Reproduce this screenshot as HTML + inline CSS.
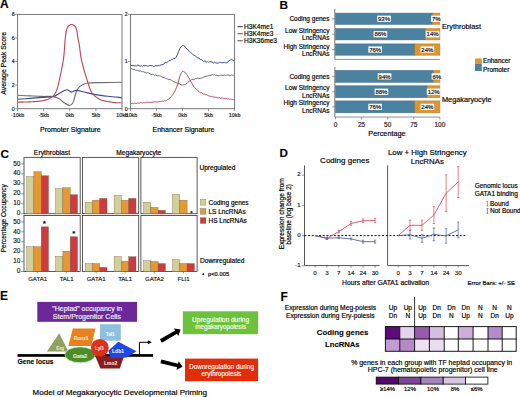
<!DOCTYPE html>
<html><head><meta charset="utf-8"><style>
html,body{margin:0;padding:0;background:#fff;overflow:hidden;width:520px;height:397px;}
svg{display:block;font-family:"Liberation Sans", sans-serif;}
</style></head><body>
<svg width="520" height="397" viewBox="0 0 520 397" font-family='"Liberation Sans", sans-serif'>
<rect width="520" height="397" fill="#fff"/>
<text x="0.00" y="8.40" font-size="12" text-anchor="start" font-weight="bold" fill="#000" stroke="#000" stroke-width="0.108">A</text>
<rect x="17.60" y="14.40" width="104.40" height="94.30" fill="none" stroke="#6a6a6a" stroke-width="0.9"/>
<line x1="15.10" y1="14.40" x2="17.60" y2="14.40" stroke="#6a6a6a" stroke-width="0.7"/>
<text x="14.60" y="16.27" font-size="5.2" text-anchor="end" fill="#222" stroke="#222" stroke-width="0.18">8</text>
<line x1="15.10" y1="37.98" x2="17.60" y2="37.98" stroke="#6a6a6a" stroke-width="0.7"/>
<text x="14.60" y="39.85" font-size="5.2" text-anchor="end" fill="#222" stroke="#222" stroke-width="0.18">6</text>
<line x1="15.10" y1="61.55" x2="17.60" y2="61.55" stroke="#6a6a6a" stroke-width="0.7"/>
<text x="14.60" y="63.42" font-size="5.2" text-anchor="end" fill="#222" stroke="#222" stroke-width="0.18">4</text>
<line x1="15.10" y1="85.12" x2="17.60" y2="85.12" stroke="#6a6a6a" stroke-width="0.7"/>
<text x="14.60" y="87.00" font-size="5.2" text-anchor="end" fill="#222" stroke="#222" stroke-width="0.18">2</text>
<line x1="15.10" y1="108.70" x2="17.60" y2="108.70" stroke="#6a6a6a" stroke-width="0.7"/>
<text x="14.60" y="110.57" font-size="5.2" text-anchor="end" fill="#222" stroke="#222" stroke-width="0.18">0</text>
<line x1="17.60" y1="108.70" x2="17.60" y2="111.20" stroke="#6a6a6a" stroke-width="0.7"/>
<text x="17.60" y="116.71" font-size="5.3" text-anchor="middle" fill="#222" stroke="#222" stroke-width="0.18">-10kb</text>
<line x1="43.70" y1="108.70" x2="43.70" y2="111.20" stroke="#6a6a6a" stroke-width="0.7"/>
<text x="43.70" y="116.71" font-size="5.3" text-anchor="middle" fill="#222" stroke="#222" stroke-width="0.18">-5kb</text>
<line x1="69.80" y1="108.70" x2="69.80" y2="111.20" stroke="#6a6a6a" stroke-width="0.7"/>
<text x="69.80" y="116.71" font-size="5.3" text-anchor="middle" fill="#222" stroke="#222" stroke-width="0.18">0kb</text>
<line x1="95.90" y1="108.70" x2="95.90" y2="111.20" stroke="#6a6a6a" stroke-width="0.7"/>
<text x="95.90" y="116.71" font-size="5.3" text-anchor="middle" fill="#222" stroke="#222" stroke-width="0.18">5kb</text>
<line x1="122.00" y1="108.70" x2="122.00" y2="111.20" stroke="#6a6a6a" stroke-width="0.7"/>
<text x="122.00" y="116.71" font-size="5.3" text-anchor="middle" fill="#222" stroke="#222" stroke-width="0.18">10kb</text>
<text x="70.40" y="131.92" font-size="7" text-anchor="middle" fill="#000" stroke="#000" stroke-width="0.18">Promoter Signature</text>
<text x="6.48" y="63.30" font-size="6.88" text-anchor="middle" fill="#000" stroke="#000" stroke-width="0.18" transform="rotate(-90 6.4768 63.3)">Average Peak Score</text>
<rect x="130.60" y="14.40" width="104.00" height="94.30" fill="none" stroke="#6a6a6a" stroke-width="0.9"/>
<line x1="128.10" y1="14.40" x2="130.60" y2="14.40" stroke="#6a6a6a" stroke-width="0.7"/>
<text x="127.60" y="16.27" font-size="5.2" text-anchor="end" fill="#222" stroke="#222" stroke-width="0.18">2</text>
<line x1="128.10" y1="61.55" x2="130.60" y2="61.55" stroke="#6a6a6a" stroke-width="0.7"/>
<text x="127.60" y="63.42" font-size="5.2" text-anchor="end" fill="#222" stroke="#222" stroke-width="0.18">1</text>
<line x1="128.10" y1="108.70" x2="130.60" y2="108.70" stroke="#6a6a6a" stroke-width="0.7"/>
<text x="127.60" y="110.57" font-size="5.2" text-anchor="end" fill="#222" stroke="#222" stroke-width="0.18">0</text>
<line x1="130.60" y1="108.70" x2="130.60" y2="111.20" stroke="#6a6a6a" stroke-width="0.7"/>
<text x="130.60" y="116.71" font-size="5.3" text-anchor="middle" fill="#222" stroke="#222" stroke-width="0.18">-10kb</text>
<line x1="156.60" y1="108.70" x2="156.60" y2="111.20" stroke="#6a6a6a" stroke-width="0.7"/>
<text x="156.60" y="116.71" font-size="5.3" text-anchor="middle" fill="#222" stroke="#222" stroke-width="0.18">-5kb</text>
<line x1="182.60" y1="108.70" x2="182.60" y2="111.20" stroke="#6a6a6a" stroke-width="0.7"/>
<text x="182.60" y="116.71" font-size="5.3" text-anchor="middle" fill="#222" stroke="#222" stroke-width="0.18">0kb</text>
<line x1="208.60" y1="108.70" x2="208.60" y2="111.20" stroke="#6a6a6a" stroke-width="0.7"/>
<text x="208.60" y="116.71" font-size="5.3" text-anchor="middle" fill="#222" stroke="#222" stroke-width="0.18">5kb</text>
<line x1="234.60" y1="108.70" x2="234.60" y2="111.20" stroke="#6a6a6a" stroke-width="0.7"/>
<text x="234.60" y="116.71" font-size="5.3" text-anchor="middle" fill="#222" stroke="#222" stroke-width="0.18">10kb</text>
<text x="183.50" y="131.92" font-size="7" text-anchor="middle" fill="#000" stroke="#000" stroke-width="0.18">Enhancer Signature</text>
<path d="M17.60,95.30 C19.67,95.40 25.93,95.72 30.00,95.90 C34.07,96.08 38.08,96.28 42.00,96.40 C45.92,96.52 50.63,96.20 53.50,96.60 C56.37,97.00 57.45,97.78 59.20,98.80 C60.95,99.82 62.32,101.60 64.00,102.70 C65.68,103.80 67.88,105.27 69.30,105.40 C70.72,105.53 71.63,104.73 72.50,103.50 C73.37,102.27 73.83,99.98 74.50,98.00 C75.17,96.02 75.68,93.47 76.50,91.60 C77.32,89.73 78.27,88.00 79.40,86.80 C80.53,85.60 81.87,85.03 83.30,84.40 C84.73,83.77 85.22,83.30 88.00,83.00 C90.78,82.70 94.33,82.72 100.00,82.60 C105.67,82.48 118.33,82.35 122.00,82.30" stroke="#6e6e6e" stroke-width="1.1" fill="none"/>
<path d="M17.60,99.30 C19.67,99.15 25.93,98.72 30.00,98.40 C34.07,98.08 38.08,97.73 42.00,97.40 C45.92,97.07 50.50,97.13 53.50,96.40 C56.50,95.67 57.77,94.12 60.00,93.00 C62.23,91.88 65.02,89.85 66.90,89.70 C68.78,89.55 69.70,91.98 71.30,92.10 C72.90,92.22 74.38,90.42 76.50,90.40 C78.62,90.38 80.88,91.30 84.00,92.00 C87.12,92.70 91.20,93.88 95.20,94.60 C99.20,95.32 103.53,95.80 108.00,96.30 C112.47,96.80 119.67,97.38 122.00,97.60" stroke="#3a4c8e" stroke-width="1.1" fill="none"/>
<path d="M17.60,102.19 L18.10,102.19 L18.60,102.18 L19.10,102.17 L19.60,102.16 L20.10,102.15 L20.60,102.14 L21.10,102.13 L21.60,102.12 L22.10,102.11 L22.60,102.10 L23.10,102.08 L23.60,102.07 L24.10,102.05 L24.60,102.04 L25.10,102.02 L25.60,102.01 L26.10,101.99 L26.60,101.98 L27.10,101.96 L27.60,101.94 L28.10,101.93 L28.60,101.91 L29.10,101.89 L29.60,101.87 L30.10,101.85 L30.60,101.83 L31.10,101.81 L31.60,101.79 L32.10,101.76 L32.60,101.73 L33.10,101.70 L33.60,101.67 L34.10,101.63 L34.60,101.59 L35.10,101.55 L35.60,101.51 L36.10,101.47 L36.60,101.42 L37.10,101.38 L37.60,101.33 L38.10,101.28 L38.60,101.23 L39.10,101.17 L39.60,101.11 L40.10,101.05 L40.60,100.99 L41.10,100.92 L41.60,100.84 L42.10,100.76 L42.60,100.68 L43.10,100.58 L43.60,100.49 L44.10,100.38 L44.60,100.27 L45.10,100.15 L45.60,100.02 L46.10,99.89 L46.60,99.75 L47.10,99.60 L47.60,99.44 L48.10,99.27 L48.60,99.07 L49.10,98.81 L49.60,98.51 L50.10,98.17 L50.60,97.80 L51.10,97.42 L51.60,97.04 L52.10,96.66 L52.60,96.28 L53.10,95.87 L53.60,95.41 L54.10,94.88 L54.60,94.25 L55.10,93.47 L55.60,92.53 L56.10,91.45 L56.60,90.25 L57.10,88.93 L57.60,87.33 L58.10,85.45 L58.60,83.37 L59.10,81.18 L59.60,78.97 L60.10,76.71 L60.60,74.32 L61.10,71.82 L61.60,69.23 L62.10,66.59 L62.60,64.09 L63.10,61.40 L63.60,58.12 L64.10,53.35 L64.60,46.45 L65.10,40.21 L65.60,35.47 L66.10,31.84 L66.60,29.59 L67.10,28.10 L67.60,27.06 L68.10,26.39 L68.60,25.89 L69.10,25.50 L69.60,25.20 L70.10,24.93 L70.60,24.70 L71.10,24.52 L71.60,24.42 L72.10,24.52 L72.60,24.70 L73.10,24.93 L73.60,25.20 L74.10,25.50 L74.60,25.89 L75.10,26.39 L75.60,27.06 L76.10,28.10 L76.60,29.59 L77.10,32.05 L77.60,35.93 L78.10,39.02 L78.60,41.37 L79.10,43.77 L79.60,46.96 L80.10,51.15 L80.60,55.17 L81.10,58.07 L81.60,60.51 L82.10,62.68 L82.60,64.66 L83.10,66.56 L83.60,68.44 L84.10,70.24 L84.60,71.96 L85.10,73.62 L85.60,75.23 L86.10,76.82 L86.60,78.39 L87.10,79.99 L87.60,81.62 L88.10,83.25 L88.60,84.85 L89.10,86.38 L89.60,87.79 L90.10,89.06 L90.60,90.19 L91.10,91.27 L91.60,92.26 L92.10,93.14 L92.60,93.86 L93.10,94.44 L93.60,94.97 L94.10,95.46 L94.60,95.90 L95.10,96.31 L95.60,96.69 L96.10,97.05 L96.60,97.39 L97.10,97.71 L97.60,98.03 L98.10,98.34 L98.60,98.65 L99.10,98.94 L99.60,99.23 L100.10,99.49 L100.60,99.74 L101.10,99.97 L101.60,100.17 L102.10,100.34 L102.60,100.48 L103.10,100.62 L103.60,100.75 L104.10,100.87 L104.60,100.99 L105.10,101.10 L105.60,101.20 L106.10,101.29 L106.60,101.38 L107.10,101.46 L107.60,101.54 L108.10,101.62 L108.60,101.70 L109.10,101.78 L109.60,101.85 L110.10,101.93 L110.60,102.01 L111.10,102.09 L111.60,102.17 L112.10,102.24 L112.60,102.31 L113.10,102.38 L113.60,102.45 L114.10,102.51 L114.60,102.57 L115.10,102.62 L115.60,102.67 L116.10,102.71 L116.60,102.74 L117.10,102.77 L117.60,102.79 L118.10,102.80 L118.60,102.81 L119.10,102.81 L119.60,102.81 L120.10,102.81 L120.60,102.81 L121.10,102.81 L121.60,102.81" stroke="#b8464f" stroke-width="1.1" fill="none" stroke-linejoin="round"/>
<path d="M130.60,65.34 L131.80,65.52 L133.00,65.63 L134.20,65.84 L135.40,65.67 L136.60,65.92 L137.80,64.99 L139.00,65.52 L140.20,66.10 L141.40,65.83 L142.60,66.17 L143.80,65.36 L145.00,65.82 L146.20,65.63 L147.40,66.00 L148.60,66.07 L149.80,65.46 L151.00,65.68 L152.20,65.74 L153.40,66.41 L154.60,66.20 L155.80,65.48 L157.00,66.11 L158.20,65.31 L159.40,65.74 L160.60,65.09 L161.80,64.60 L163.00,64.85 L164.20,63.27 L165.40,62.46 L166.60,62.64 L167.80,61.88 L169.00,60.61 L170.20,60.72 L171.40,59.65 L172.60,59.30 L173.80,58.26 L175.00,58.39 L176.20,57.06 L177.40,54.77 L178.60,51.58 L179.80,48.59 L181.00,46.85 L182.20,45.41 L183.40,45.40 L184.60,46.10 L185.80,47.74 L187.00,49.32 L188.20,49.82 L189.40,51.66 L190.60,52.33 L191.80,53.27 L193.00,54.78 L194.20,55.31 L195.40,55.98 L196.60,56.95 L197.80,57.93 L199.00,57.95 L200.20,59.70 L201.40,59.35 L202.60,60.77 L203.80,61.40 L205.00,60.86 L206.20,61.94 L207.40,61.68 L208.60,62.10 L209.80,61.64 L211.00,61.83 L212.20,62.09 L213.40,63.03 L214.60,62.25 L215.80,62.88 L217.00,63.07 L218.20,63.09 L219.40,62.43 L220.60,62.44 L221.80,62.63 L223.00,62.90 L224.20,62.17 L225.40,62.87 L226.60,62.79 L227.80,62.21 L229.00,60.49 L230.20,60.40 L231.40,59.13 L232.60,60.11 L233.80,60.94" stroke="#3a4c8e" stroke-width="1.0" fill="none" stroke-linejoin="round"/>
<path d="M130.60,68.54 L131.80,68.74 L133.00,69.53 L134.20,69.35 L135.40,70.10 L136.60,70.28 L137.80,70.33 L139.00,71.05 L140.20,70.94 L141.40,71.59 L142.60,71.55 L143.80,71.85 L145.00,72.43 L146.20,73.07 L147.40,72.72 L148.60,73.10 L149.80,73.76 L151.00,74.36 L152.20,74.34 L153.40,74.49 L154.60,75.33 L155.80,74.82 L157.00,75.88 L158.20,75.70 L159.40,75.91 L160.60,76.24 L161.80,76.78 L163.00,77.62 L164.20,77.44 L165.40,78.22 L166.60,78.73 L167.80,78.97 L169.00,79.63 L170.20,79.69 L171.40,80.20 L172.60,80.85 L173.80,81.81 L175.00,82.11 L176.20,82.53 L177.40,83.30 L178.60,83.72 L179.80,84.06 L181.00,84.88 L182.20,85.10 L183.40,84.74 L184.60,84.71 L185.80,84.12 L187.00,83.57 L188.20,82.26 L189.40,80.88 L190.60,80.62 L191.80,79.35 L193.00,79.30 L194.20,79.36 L195.40,78.60 L196.60,78.68 L197.80,78.09 L199.00,78.48 L200.20,78.38 L201.40,77.97 L202.60,77.89 L203.80,76.94 L205.00,76.82 L206.20,76.32 L207.40,75.90 L208.60,75.36 L209.80,75.35 L211.00,75.23 L212.20,74.78 L213.40,75.00 L214.60,74.53 L215.80,75.20 L217.00,75.26 L218.20,75.67 L219.40,75.61 L220.60,75.18 L221.80,75.30 L223.00,75.55 L224.20,74.97 L225.40,75.37 L226.60,75.10 L227.80,75.06 L229.00,75.00 L230.20,75.64 L231.40,75.07 L232.60,75.17 L233.80,75.30" stroke="#6e6e6e" stroke-width="1.0" fill="none" stroke-linejoin="round"/>
<path d="M130.60,103.68 L131.60,103.55 L132.60,103.34 L133.60,103.70 L134.60,103.11 L135.60,103.33 L136.60,103.49 L137.60,102.93 L138.60,103.14 L139.60,103.10 L140.60,102.68 L141.60,102.80 L142.60,102.92 L143.60,102.69 L144.60,102.77 L145.60,102.35 L146.60,102.32 L147.60,102.17 L148.60,102.33 L149.60,102.51 L150.60,102.24 L151.60,102.29 L152.60,102.01 L153.60,102.18 L154.60,101.75 L155.60,101.81 L156.60,101.99 L157.60,101.97 L158.60,101.72 L159.60,101.44 L160.60,101.46 L161.60,101.30 L162.60,101.17 L163.60,101.26 L164.60,100.62 L165.60,100.71 L166.60,100.33 L167.60,99.42 L168.60,99.08 L169.60,98.35 L170.60,97.07 L171.60,96.14 L172.60,95.15 L173.60,93.24 L174.60,91.77 L175.60,89.41 L176.60,87.35 L177.60,84.74 L178.60,80.63 L179.60,76.94 L180.60,74.28 L181.60,72.41 L182.60,71.47 L183.60,71.36 L184.60,72.05 L185.60,73.14 L186.60,74.26 L187.60,75.83 L188.60,77.69 L189.60,79.17 L190.60,81.24 L191.60,82.66 L192.60,84.60 L193.60,86.44 L194.60,87.32 L195.60,88.73 L196.60,89.70 L197.60,90.27 L198.60,91.09 L199.60,92.19 L200.60,92.78 L201.60,92.77 L202.60,93.59 L203.60,94.18 L204.60,94.17 L205.60,94.78 L206.60,94.80 L207.60,95.33 L208.60,95.82 L209.60,96.06 L210.60,96.43 L211.60,96.25 L212.60,96.63 L213.60,97.14 L214.60,97.16 L215.60,97.26 L216.60,97.39 L217.60,97.90 L218.60,97.80 L219.60,97.61 L220.60,98.22 L221.60,98.07 L222.60,98.27 L223.60,98.26 L224.60,98.53 L225.60,98.58 L226.60,98.56 L227.60,99.00 L228.60,98.80 L229.60,99.31 L230.60,98.96 L231.60,99.51 L232.60,99.62 L233.60,99.52 L234.60,99.73" stroke="#b8464f" stroke-width="1.0" fill="none" stroke-linejoin="round"/>
<line x1="237.50" y1="26.60" x2="242.70" y2="26.60" stroke="#3a4c8e" stroke-width="1.2"/>
<text x="244.00" y="28.98" font-size="6.6" text-anchor="start" fill="#000" stroke="#000" stroke-width="0.18">H3K4me1</text>
<line x1="237.50" y1="33.65" x2="242.70" y2="33.65" stroke="#b8464f" stroke-width="1.2"/>
<text x="244.00" y="36.03" font-size="6.6" text-anchor="start" fill="#000" stroke="#000" stroke-width="0.18">H3K4me3</text>
<line x1="237.50" y1="40.70" x2="242.70" y2="40.70" stroke="#6e6e6e" stroke-width="1.2"/>
<text x="244.00" y="43.08" font-size="6.6" text-anchor="start" fill="#000" stroke="#000" stroke-width="0.18">H3K36me3</text>
<text x="279.40" y="8.60" font-size="11.8" text-anchor="start" font-weight="bold" fill="#000" stroke="#000" stroke-width="0.108">B</text>
<line x1="334.80" y1="8.70" x2="334.80" y2="59.40" stroke="#555" stroke-width="0.8"/>
<line x1="334.80" y1="59.40" x2="439.90" y2="59.40" stroke="#6a7a88" stroke-width="0.8"/>
<rect x="335.50" y="13.10" width="97.09" height="11.30" fill="#4b82a0" stroke="#3f6b86" stroke-width="0.5"/>
<rect x="432.59" y="13.10" width="7.31" height="11.30" fill="#df952f" stroke="#b07a2a" stroke-width="0.5"/>
<rect x="377.24" y="15.65" width="13.61" height="6.20" fill="#fff" stroke="none" stroke-width="0"/>
<text x="384.05" y="20.91" font-size="6.0" text-anchor="middle" fill="#111" stroke="#111" stroke-width="0.18">93%</text>
<rect x="431.11" y="15.65" width="10.27" height="6.20" fill="#fff" stroke="none" stroke-width="0"/>
<text x="436.25" y="20.91" font-size="6.0" text-anchor="middle" fill="#111" stroke="#111" stroke-width="0.18">7%</text>
<line x1="332.00" y1="18.75" x2="334.80" y2="18.75" stroke="#555" stroke-width="0.6"/>
<rect x="335.50" y="28.60" width="89.78" height="11.30" fill="#4b82a0" stroke="#3f6b86" stroke-width="0.5"/>
<rect x="425.28" y="28.60" width="14.62" height="11.30" fill="#df952f" stroke="#b07a2a" stroke-width="0.5"/>
<rect x="373.59" y="31.15" width="13.61" height="6.20" fill="#fff" stroke="none" stroke-width="0"/>
<text x="380.39" y="36.41" font-size="6.0" text-anchor="middle" fill="#111" stroke="#111" stroke-width="0.18">86%</text>
<rect x="425.79" y="31.15" width="13.61" height="6.20" fill="#fff" stroke="none" stroke-width="0"/>
<text x="432.59" y="36.41" font-size="6.0" text-anchor="middle" fill="#111" stroke="#111" stroke-width="0.18">14%</text>
<line x1="332.00" y1="34.25" x2="334.80" y2="34.25" stroke="#555" stroke-width="0.6"/>
<rect x="335.50" y="43.90" width="79.34" height="11.30" fill="#4b82a0" stroke="#3f6b86" stroke-width="0.5"/>
<rect x="414.84" y="43.90" width="25.06" height="11.30" fill="#df952f" stroke="#b07a2a" stroke-width="0.5"/>
<rect x="368.37" y="46.45" width="13.61" height="6.20" fill="#fff" stroke="none" stroke-width="0"/>
<text x="375.17" y="51.71" font-size="6.0" text-anchor="middle" fill="#111" stroke="#111" stroke-width="0.18">76%</text>
<rect x="420.57" y="46.45" width="13.61" height="6.20" fill="#fff" stroke="none" stroke-width="0"/>
<text x="427.37" y="51.71" font-size="6.0" text-anchor="middle" fill="#111" stroke="#111" stroke-width="0.18">24%</text>
<line x1="332.00" y1="49.55" x2="334.80" y2="49.55" stroke="#555" stroke-width="0.6"/>
<text x="442.00" y="29.03" font-size="7.3" text-anchor="start" fill="#000" stroke="#000" stroke-width="0.18">Erythroblast</text>
<line x1="334.80" y1="67.00" x2="334.80" y2="117.10" stroke="#555" stroke-width="0.8"/>
<line x1="334.80" y1="117.10" x2="439.90" y2="117.10" stroke="#6a7a88" stroke-width="0.8"/>
<rect x="335.50" y="70.40" width="98.14" height="11.90" fill="#4b82a0" stroke="#3f6b86" stroke-width="0.5"/>
<rect x="433.64" y="70.40" width="6.26" height="11.90" fill="#df952f" stroke="#b07a2a" stroke-width="0.5"/>
<rect x="377.76" y="73.25" width="13.61" height="6.20" fill="#fff" stroke="none" stroke-width="0"/>
<text x="384.57" y="78.51" font-size="6.0" text-anchor="middle" fill="#111" stroke="#111" stroke-width="0.18">94%</text>
<rect x="431.63" y="73.25" width="10.27" height="6.20" fill="#fff" stroke="none" stroke-width="0"/>
<text x="436.77" y="78.51" font-size="6.0" text-anchor="middle" fill="#111" stroke="#111" stroke-width="0.18">6%</text>
<line x1="332.00" y1="76.35" x2="334.80" y2="76.35" stroke="#555" stroke-width="0.6"/>
<rect x="335.50" y="85.80" width="91.87" height="11.90" fill="#4b82a0" stroke="#3f6b86" stroke-width="0.5"/>
<rect x="427.37" y="85.80" width="12.53" height="11.90" fill="#df952f" stroke="#b07a2a" stroke-width="0.5"/>
<rect x="374.63" y="88.65" width="13.61" height="6.20" fill="#fff" stroke="none" stroke-width="0"/>
<text x="381.44" y="93.91" font-size="6.0" text-anchor="middle" fill="#111" stroke="#111" stroke-width="0.18">88%</text>
<rect x="426.83" y="88.65" width="13.61" height="6.20" fill="#fff" stroke="none" stroke-width="0"/>
<text x="433.64" y="93.91" font-size="6.0" text-anchor="middle" fill="#111" stroke="#111" stroke-width="0.18">12%</text>
<line x1="332.00" y1="91.75" x2="334.80" y2="91.75" stroke="#555" stroke-width="0.6"/>
<rect x="335.50" y="100.90" width="79.34" height="11.90" fill="#4b82a0" stroke="#3f6b86" stroke-width="0.5"/>
<rect x="414.84" y="100.90" width="25.06" height="11.90" fill="#df952f" stroke="#b07a2a" stroke-width="0.5"/>
<rect x="368.37" y="103.75" width="13.61" height="6.20" fill="#fff" stroke="none" stroke-width="0"/>
<text x="375.17" y="109.01" font-size="6.0" text-anchor="middle" fill="#111" stroke="#111" stroke-width="0.18">76%</text>
<rect x="420.57" y="103.75" width="13.61" height="6.20" fill="#fff" stroke="none" stroke-width="0"/>
<text x="427.37" y="109.01" font-size="6.0" text-anchor="middle" fill="#111" stroke="#111" stroke-width="0.18">24%</text>
<line x1="332.00" y1="106.85" x2="334.80" y2="106.85" stroke="#555" stroke-width="0.6"/>
<text x="442.00" y="101.83" font-size="7.3" text-anchor="start" fill="#000" stroke="#000" stroke-width="0.18">Megakaryocyte</text>
<text x="329.50" y="21.24" font-size="6.5" text-anchor="end" fill="#000" stroke="#000" stroke-width="0.18">Coding genes</text>
<text x="329.50" y="32.64" font-size="6.5" text-anchor="end" fill="#000" stroke="#000" stroke-width="0.18">Low Stringency</text>
<text x="329.50" y="40.14" font-size="6.5" text-anchor="end" fill="#000" stroke="#000" stroke-width="0.18">LncRNAs</text>
<text x="329.50" y="48.54" font-size="6.5" text-anchor="end" fill="#000" stroke="#000" stroke-width="0.18">High Stringency</text>
<text x="329.50" y="56.04" font-size="6.5" text-anchor="end" fill="#000" stroke="#000" stroke-width="0.18">LncRNAs</text>
<text x="329.50" y="78.64" font-size="6.5" text-anchor="end" fill="#000" stroke="#000" stroke-width="0.18">Coding genes</text>
<text x="329.50" y="90.14" font-size="6.5" text-anchor="end" fill="#000" stroke="#000" stroke-width="0.18">Low Stringency</text>
<text x="329.50" y="97.64" font-size="6.5" text-anchor="end" fill="#000" stroke="#000" stroke-width="0.18">LncRNAs</text>
<text x="329.50" y="105.34" font-size="6.5" text-anchor="end" fill="#000" stroke="#000" stroke-width="0.18">High Stringency</text>
<text x="329.50" y="112.84" font-size="6.5" text-anchor="end" fill="#000" stroke="#000" stroke-width="0.18">LncRNAs</text>
<line x1="335.50" y1="117.10" x2="335.50" y2="119.40" stroke="#555" stroke-width="0.6"/>
<text x="335.50" y="127.04" font-size="6.5" text-anchor="middle" fill="#222" stroke="#222" stroke-width="0.18">0</text>
<line x1="361.60" y1="117.10" x2="361.60" y2="119.40" stroke="#555" stroke-width="0.6"/>
<text x="361.60" y="127.04" font-size="6.5" text-anchor="middle" fill="#222" stroke="#222" stroke-width="0.18">25</text>
<line x1="387.70" y1="117.10" x2="387.70" y2="119.40" stroke="#555" stroke-width="0.6"/>
<text x="387.70" y="127.04" font-size="6.5" text-anchor="middle" fill="#222" stroke="#222" stroke-width="0.18">50</text>
<line x1="413.80" y1="117.10" x2="413.80" y2="119.40" stroke="#555" stroke-width="0.6"/>
<text x="413.80" y="127.04" font-size="6.5" text-anchor="middle" fill="#222" stroke="#222" stroke-width="0.18">75</text>
<line x1="439.90" y1="117.10" x2="439.90" y2="119.40" stroke="#555" stroke-width="0.6"/>
<text x="439.90" y="127.04" font-size="6.5" text-anchor="middle" fill="#222" stroke="#222" stroke-width="0.18">100</text>
<text x="387.00" y="135.63" font-size="7.3" text-anchor="middle" fill="#000" stroke="#000" stroke-width="0.18">Percentage</text>
<rect x="475.00" y="58.50" width="6.80" height="5.30" fill="#df952f" stroke="none" stroke-width="0"/>
<rect x="475.00" y="63.80" width="6.80" height="7.20" fill="#4b82a0" stroke="none" stroke-width="0"/>
<text x="483.00" y="63.30" font-size="6.4" text-anchor="start" fill="#000" stroke="#000" stroke-width="0.18">Enhancer</text>
<text x="483.00" y="71.50" font-size="6.4" text-anchor="start" fill="#000" stroke="#000" stroke-width="0.18">Promoter</text>
<text x="0.50" y="158.00" font-size="11.8" text-anchor="start" font-weight="bold" fill="#000" stroke="#000" stroke-width="0.108">C</text>
<rect x="24.00" y="157.40" width="56.20" height="56.30" fill="none" stroke="#484848" stroke-width="0.9"/>
<rect x="26.60" y="176.77" width="7.30" height="36.93" fill="#d3cf9b" stroke="#6b5a3a" stroke-width="0.35"/>
<rect x="33.90" y="171.78" width="7.30" height="41.92" fill="#e39a36" stroke="#6b5a3a" stroke-width="0.35"/>
<rect x="41.20" y="175.78" width="7.30" height="37.92" fill="#cc3b40" stroke="#6b5a3a" stroke-width="0.35"/>
<rect x="55.60" y="188.75" width="7.30" height="24.95" fill="#d3cf9b" stroke="#6b5a3a" stroke-width="0.35"/>
<rect x="62.90" y="187.75" width="7.30" height="25.95" fill="#e39a36" stroke="#6b5a3a" stroke-width="0.35"/>
<rect x="70.20" y="194.74" width="7.30" height="18.96" fill="#cc3b40" stroke="#6b5a3a" stroke-width="0.35"/>
<rect x="82.50" y="157.40" width="56.20" height="56.30" fill="none" stroke="#484848" stroke-width="0.9"/>
<rect x="85.10" y="202.22" width="7.30" height="11.48" fill="#d3cf9b" stroke="#6b5a3a" stroke-width="0.35"/>
<rect x="92.40" y="200.33" width="7.30" height="13.37" fill="#e39a36" stroke="#6b5a3a" stroke-width="0.35"/>
<rect x="99.70" y="198.43" width="7.30" height="15.27" fill="#cc3b40" stroke="#6b5a3a" stroke-width="0.35"/>
<rect x="114.10" y="195.54" width="7.30" height="18.16" fill="#d3cf9b" stroke="#6b5a3a" stroke-width="0.35"/>
<rect x="121.40" y="200.33" width="7.30" height="13.37" fill="#e39a36" stroke="#6b5a3a" stroke-width="0.35"/>
<rect x="128.70" y="198.43" width="7.30" height="15.27" fill="#cc3b40" stroke="#6b5a3a" stroke-width="0.35"/>
<rect x="140.90" y="157.40" width="56.20" height="56.30" fill="none" stroke="#484848" stroke-width="0.9"/>
<rect x="143.50" y="202.22" width="7.30" height="11.48" fill="#d3cf9b" stroke="#6b5a3a" stroke-width="0.35"/>
<rect x="150.80" y="207.41" width="7.30" height="6.29" fill="#e39a36" stroke="#6b5a3a" stroke-width="0.35"/>
<rect x="158.10" y="210.31" width="7.30" height="3.39" fill="#cc3b40" stroke="#6b5a3a" stroke-width="0.35"/>
<rect x="172.50" y="194.44" width="7.30" height="19.26" fill="#d3cf9b" stroke="#6b5a3a" stroke-width="0.35"/>
<rect x="179.80" y="200.33" width="7.30" height="13.37" fill="#e39a36" stroke="#6b5a3a" stroke-width="0.35"/>
<line x1="20.80" y1="213.70" x2="24.00" y2="213.70" stroke="#555" stroke-width="0.6"/>
<text x="20.30" y="215.40" font-size="6.4" text-anchor="end" fill="#222" stroke="#222" stroke-width="0.18">0</text>
<line x1="20.80" y1="203.72" x2="24.00" y2="203.72" stroke="#555" stroke-width="0.6"/>
<text x="20.30" y="205.42" font-size="6.4" text-anchor="end" fill="#222" stroke="#222" stroke-width="0.18">10</text>
<line x1="20.80" y1="193.74" x2="24.00" y2="193.74" stroke="#555" stroke-width="0.6"/>
<text x="20.30" y="195.44" font-size="6.4" text-anchor="end" fill="#222" stroke="#222" stroke-width="0.18">20</text>
<line x1="20.80" y1="183.76" x2="24.00" y2="183.76" stroke="#555" stroke-width="0.6"/>
<text x="20.30" y="185.46" font-size="6.4" text-anchor="end" fill="#222" stroke="#222" stroke-width="0.18">30</text>
<line x1="20.80" y1="173.78" x2="24.00" y2="173.78" stroke="#555" stroke-width="0.6"/>
<text x="20.30" y="175.48" font-size="6.4" text-anchor="end" fill="#222" stroke="#222" stroke-width="0.18">40</text>
<line x1="20.80" y1="163.80" x2="24.00" y2="163.80" stroke="#555" stroke-width="0.6"/>
<text x="20.30" y="165.50" font-size="6.4" text-anchor="end" fill="#222" stroke="#222" stroke-width="0.18">50</text>
<rect x="24.00" y="215.50" width="56.20" height="56.00" fill="none" stroke="#484848" stroke-width="0.9"/>
<rect x="26.60" y="246.70" width="7.30" height="24.80" fill="#d3cf9b" stroke="#6b5a3a" stroke-width="0.35"/>
<rect x="33.90" y="246.70" width="7.30" height="24.80" fill="#e39a36" stroke="#6b5a3a" stroke-width="0.35"/>
<rect x="41.20" y="226.86" width="7.30" height="44.64" fill="#cc3b40" stroke="#6b5a3a" stroke-width="0.35"/>
<rect x="55.60" y="256.32" width="7.30" height="15.18" fill="#d3cf9b" stroke="#6b5a3a" stroke-width="0.35"/>
<rect x="62.90" y="251.26" width="7.30" height="20.24" fill="#e39a36" stroke="#6b5a3a" stroke-width="0.35"/>
<rect x="70.20" y="236.78" width="7.30" height="34.72" fill="#cc3b40" stroke="#6b5a3a" stroke-width="0.35"/>
<rect x="82.50" y="215.50" width="56.20" height="56.00" fill="none" stroke="#484848" stroke-width="0.9"/>
<rect x="85.10" y="263.56" width="7.30" height="7.94" fill="#d3cf9b" stroke="#6b5a3a" stroke-width="0.35"/>
<rect x="92.40" y="263.56" width="7.30" height="7.94" fill="#e39a36" stroke="#6b5a3a" stroke-width="0.35"/>
<rect x="99.70" y="267.33" width="7.30" height="4.17" fill="#cc3b40" stroke="#6b5a3a" stroke-width="0.35"/>
<rect x="114.10" y="256.52" width="7.30" height="14.98" fill="#d3cf9b" stroke="#6b5a3a" stroke-width="0.35"/>
<rect x="121.40" y="261.28" width="7.30" height="10.22" fill="#e39a36" stroke="#6b5a3a" stroke-width="0.35"/>
<rect x="128.70" y="256.72" width="7.30" height="14.78" fill="#cc3b40" stroke="#6b5a3a" stroke-width="0.35"/>
<rect x="140.90" y="215.50" width="56.20" height="56.00" fill="none" stroke="#484848" stroke-width="0.9"/>
<rect x="143.50" y="260.79" width="7.30" height="10.71" fill="#d3cf9b" stroke="#6b5a3a" stroke-width="0.35"/>
<rect x="150.80" y="261.48" width="7.30" height="10.02" fill="#e39a36" stroke="#6b5a3a" stroke-width="0.35"/>
<rect x="158.10" y="263.56" width="7.30" height="7.94" fill="#cc3b40" stroke="#6b5a3a" stroke-width="0.35"/>
<rect x="172.50" y="259.60" width="7.30" height="11.90" fill="#d3cf9b" stroke="#6b5a3a" stroke-width="0.35"/>
<rect x="179.80" y="263.56" width="7.30" height="7.94" fill="#e39a36" stroke="#6b5a3a" stroke-width="0.35"/>
<rect x="187.10" y="263.56" width="7.30" height="7.94" fill="#cc3b40" stroke="#6b5a3a" stroke-width="0.35"/>
<line x1="20.80" y1="271.50" x2="24.00" y2="271.50" stroke="#555" stroke-width="0.6"/>
<text x="20.30" y="273.20" font-size="6.4" text-anchor="end" fill="#222" stroke="#222" stroke-width="0.18">0</text>
<line x1="20.80" y1="261.58" x2="24.00" y2="261.58" stroke="#555" stroke-width="0.6"/>
<text x="20.30" y="263.28" font-size="6.4" text-anchor="end" fill="#222" stroke="#222" stroke-width="0.18">10</text>
<line x1="20.80" y1="251.66" x2="24.00" y2="251.66" stroke="#555" stroke-width="0.6"/>
<text x="20.30" y="253.36" font-size="6.4" text-anchor="end" fill="#222" stroke="#222" stroke-width="0.18">20</text>
<line x1="20.80" y1="241.74" x2="24.00" y2="241.74" stroke="#555" stroke-width="0.6"/>
<text x="20.30" y="243.44" font-size="6.4" text-anchor="end" fill="#222" stroke="#222" stroke-width="0.18">30</text>
<line x1="20.80" y1="231.82" x2="24.00" y2="231.82" stroke="#555" stroke-width="0.6"/>
<text x="20.30" y="233.52" font-size="6.4" text-anchor="end" fill="#222" stroke="#222" stroke-width="0.18">40</text>
<line x1="20.80" y1="221.90" x2="24.00" y2="221.90" stroke="#555" stroke-width="0.6"/>
<text x="20.30" y="223.60" font-size="6.4" text-anchor="end" fill="#222" stroke="#222" stroke-width="0.18">50</text>
<text x="44.30" y="226.38" font-size="8" text-anchor="middle" font-weight="bold" fill="#000" stroke="#000" stroke-width="0.108">*</text>
<text x="73.70" y="236.48" font-size="8" text-anchor="middle" font-weight="bold" fill="#000" stroke="#000" stroke-width="0.108">*</text>
<text x="191.50" y="215.16" font-size="6" text-anchor="middle" font-weight="bold" fill="#000" stroke="#000" stroke-width="0.108">*</text>
<line x1="37.60" y1="271.50" x2="37.60" y2="273.50" stroke="#555" stroke-width="0.6"/>
<text x="37.60" y="280.76" font-size="6.0" text-anchor="middle" fill="#222" stroke="#222" stroke-width="0.18">GATA1</text>
<line x1="66.60" y1="271.50" x2="66.60" y2="273.50" stroke="#555" stroke-width="0.6"/>
<text x="66.60" y="280.76" font-size="6.0" text-anchor="middle" fill="#222" stroke="#222" stroke-width="0.18">TAL1</text>
<line x1="96.10" y1="271.50" x2="96.10" y2="273.50" stroke="#555" stroke-width="0.6"/>
<text x="96.10" y="280.76" font-size="6.0" text-anchor="middle" fill="#222" stroke="#222" stroke-width="0.18">GATA1</text>
<line x1="125.10" y1="271.50" x2="125.10" y2="273.50" stroke="#555" stroke-width="0.6"/>
<text x="125.10" y="280.76" font-size="6.0" text-anchor="middle" fill="#222" stroke="#222" stroke-width="0.18">TAL1</text>
<line x1="154.50" y1="271.50" x2="154.50" y2="273.50" stroke="#555" stroke-width="0.6"/>
<text x="154.50" y="280.76" font-size="6.0" text-anchor="middle" fill="#222" stroke="#222" stroke-width="0.18">GATA2</text>
<line x1="183.50" y1="271.50" x2="183.50" y2="273.50" stroke="#555" stroke-width="0.6"/>
<text x="183.50" y="280.76" font-size="6.0" text-anchor="middle" fill="#222" stroke="#222" stroke-width="0.18">FLI1</text>
<text x="52.00" y="155.25" font-size="6.8" text-anchor="middle" fill="#000" stroke="#000" stroke-width="0.18">Erythroblast</text>
<text x="138.80" y="155.19" font-size="6.65" text-anchor="middle" fill="#000" stroke="#000" stroke-width="0.18">Megakaryocyte</text>
<text x="6.36" y="218.30" font-size="6.55" text-anchor="middle" fill="#000" stroke="#000" stroke-width="0.18" transform="rotate(-90 6.358 218.3)">Percentage Occupancy</text>
<text x="199.40" y="169.98" font-size="6.6" text-anchor="start" fill="#000" stroke="#000" stroke-width="0.18">Upregulated</text>
<text x="200.00" y="262.78" font-size="6.6" text-anchor="start" fill="#000" stroke="#000" stroke-width="0.18">Downregulated</text>
<rect x="200.30" y="199.30" width="5.60" height="5.80" fill="#d3cf9b" stroke="#6b5a3a" stroke-width="0.3"/>
<text x="208.50" y="204.54" font-size="6.5" text-anchor="start" fill="#000" stroke="#000" stroke-width="0.18">Coding genes</text>
<rect x="200.30" y="208.50" width="5.60" height="5.80" fill="#e39a36" stroke="#6b5a3a" stroke-width="0.3"/>
<text x="208.50" y="213.74" font-size="6.5" text-anchor="start" fill="#000" stroke="#000" stroke-width="0.18">LS LncRNAs</text>
<rect x="200.30" y="217.70" width="5.60" height="5.80" fill="#cc3b40" stroke="#6b5a3a" stroke-width="0.3"/>
<text x="208.50" y="222.94" font-size="6.5" text-anchor="start" fill="#000" stroke="#000" stroke-width="0.18">HS LncRNAs</text>
<circle cx="203.3" cy="274.2" r="0.9" fill="#000"/>
<text x="208.00" y="276.29" font-size="5.8" text-anchor="start" fill="#000" stroke="#000" stroke-width="0.18">p&lt;0.005</text>
<text x="279.50" y="157.40" font-size="11.6" text-anchor="start" font-weight="bold" fill="#000" stroke="#000" stroke-width="0.108">D</text>
<line x1="304.50" y1="165.30" x2="304.50" y2="265.60" stroke="#444" stroke-width="0.9"/>
<line x1="304.50" y1="265.60" x2="379.70" y2="265.60" stroke="#444" stroke-width="0.9"/>
<line x1="387.60" y1="165.30" x2="387.60" y2="265.60" stroke="#444" stroke-width="0.9"/>
<line x1="387.70" y1="265.60" x2="469.00" y2="265.60" stroke="#444" stroke-width="0.9"/>
<line x1="301.80" y1="175.10" x2="304.30" y2="175.10" stroke="#444" stroke-width="0.6"/>
<text x="300.60" y="176.36" font-size="6.0" text-anchor="end" fill="#222" stroke="#222" stroke-width="0.18">2</text>
<line x1="301.80" y1="205.35" x2="304.30" y2="205.35" stroke="#444" stroke-width="0.6"/>
<text x="300.60" y="206.61" font-size="6.0" text-anchor="end" fill="#222" stroke="#222" stroke-width="0.18">1</text>
<line x1="301.80" y1="235.60" x2="304.30" y2="235.60" stroke="#444" stroke-width="0.6"/>
<text x="300.60" y="236.86" font-size="6.0" text-anchor="end" fill="#222" stroke="#222" stroke-width="0.18">0</text>
<line x1="301.80" y1="265.85" x2="304.30" y2="265.85" stroke="#444" stroke-width="0.6"/>
<text x="300.60" y="267.11" font-size="6.0" text-anchor="end" fill="#222" stroke="#222" stroke-width="0.18">-1</text>
<line x1="304.30" y1="235.60" x2="466.00" y2="235.60" stroke="#111" stroke-width="1.0" stroke-dasharray="2.0,1.7"/>
<line x1="315.10" y1="265.40" x2="315.10" y2="267.60" stroke="#444" stroke-width="0.6"/>
<text x="315.10" y="274.53" font-size="6.2" text-anchor="middle" fill="#222" stroke="#222" stroke-width="0.18">0</text>
<line x1="326.90" y1="265.40" x2="326.90" y2="267.60" stroke="#444" stroke-width="0.6"/>
<text x="326.90" y="274.53" font-size="6.2" text-anchor="middle" fill="#222" stroke="#222" stroke-width="0.18">3</text>
<line x1="338.80" y1="265.40" x2="338.80" y2="267.60" stroke="#444" stroke-width="0.6"/>
<text x="338.80" y="274.53" font-size="6.2" text-anchor="middle" fill="#222" stroke="#222" stroke-width="0.18">7</text>
<line x1="351.00" y1="265.40" x2="351.00" y2="267.60" stroke="#444" stroke-width="0.6"/>
<text x="351.00" y="274.53" font-size="6.2" text-anchor="middle" fill="#222" stroke="#222" stroke-width="0.18">14</text>
<line x1="363.00" y1="265.40" x2="363.00" y2="267.60" stroke="#444" stroke-width="0.6"/>
<text x="363.00" y="274.53" font-size="6.2" text-anchor="middle" fill="#222" stroke="#222" stroke-width="0.18">24</text>
<line x1="375.10" y1="265.40" x2="375.10" y2="267.60" stroke="#444" stroke-width="0.6"/>
<text x="375.10" y="274.53" font-size="6.2" text-anchor="middle" fill="#222" stroke="#222" stroke-width="0.18">30</text>
<line x1="398.20" y1="265.40" x2="398.20" y2="267.60" stroke="#444" stroke-width="0.6"/>
<text x="398.20" y="274.53" font-size="6.2" text-anchor="middle" fill="#222" stroke="#222" stroke-width="0.18">0</text>
<line x1="410.00" y1="265.40" x2="410.00" y2="267.60" stroke="#444" stroke-width="0.6"/>
<text x="410.00" y="274.53" font-size="6.2" text-anchor="middle" fill="#222" stroke="#222" stroke-width="0.18">3</text>
<line x1="422.00" y1="265.40" x2="422.00" y2="267.60" stroke="#444" stroke-width="0.6"/>
<text x="422.00" y="274.53" font-size="6.2" text-anchor="middle" fill="#222" stroke="#222" stroke-width="0.18">7</text>
<line x1="433.90" y1="265.40" x2="433.90" y2="267.60" stroke="#444" stroke-width="0.6"/>
<text x="433.90" y="274.53" font-size="6.2" text-anchor="middle" fill="#222" stroke="#222" stroke-width="0.18">14</text>
<line x1="446.10" y1="265.40" x2="446.10" y2="267.60" stroke="#444" stroke-width="0.6"/>
<text x="446.10" y="274.53" font-size="6.2" text-anchor="middle" fill="#222" stroke="#222" stroke-width="0.18">24</text>
<line x1="458.20" y1="265.40" x2="458.20" y2="267.60" stroke="#444" stroke-width="0.6"/>
<text x="458.20" y="274.53" font-size="6.2" text-anchor="middle" fill="#222" stroke="#222" stroke-width="0.18">30</text>
<path d="M315.10,235.60 L326.90,238.32 L338.80,231.67 L351.00,223.50 L363.00,220.78 L375.10,220.47" stroke="#cc5062" stroke-width="0.9" fill="none" stroke-linejoin="round"/>
<line x1="326.90" y1="237.11" x2="326.90" y2="239.53" stroke="#cc5062" stroke-width="0.7"/>
<line x1="325.70" y1="237.11" x2="328.10" y2="237.11" stroke="#cc5062" stroke-width="0.7"/>
<line x1="325.70" y1="239.53" x2="328.10" y2="239.53" stroke="#cc5062" stroke-width="0.7"/>
<line x1="338.80" y1="230.46" x2="338.80" y2="232.88" stroke="#cc5062" stroke-width="0.7"/>
<line x1="337.60" y1="230.46" x2="340.00" y2="230.46" stroke="#cc5062" stroke-width="0.7"/>
<line x1="337.60" y1="232.88" x2="340.00" y2="232.88" stroke="#cc5062" stroke-width="0.7"/>
<line x1="351.00" y1="221.69" x2="351.00" y2="225.31" stroke="#cc5062" stroke-width="0.7"/>
<line x1="349.80" y1="221.69" x2="352.20" y2="221.69" stroke="#cc5062" stroke-width="0.7"/>
<line x1="349.80" y1="225.31" x2="352.20" y2="225.31" stroke="#cc5062" stroke-width="0.7"/>
<line x1="363.00" y1="218.96" x2="363.00" y2="222.59" stroke="#cc5062" stroke-width="0.7"/>
<line x1="361.80" y1="218.96" x2="364.20" y2="218.96" stroke="#cc5062" stroke-width="0.7"/>
<line x1="361.80" y1="222.59" x2="364.20" y2="222.59" stroke="#cc5062" stroke-width="0.7"/>
<line x1="375.10" y1="218.36" x2="375.10" y2="222.59" stroke="#cc5062" stroke-width="0.7"/>
<line x1="373.90" y1="218.36" x2="376.30" y2="218.36" stroke="#cc5062" stroke-width="0.7"/>
<line x1="373.90" y1="222.59" x2="376.30" y2="222.59" stroke="#cc5062" stroke-width="0.7"/>
<path d="M315.10,235.60 L326.90,238.32 L338.80,237.72 L351.00,238.93 L363.00,241.65 L375.10,241.65" stroke="#5063a6" stroke-width="0.9" fill="none" stroke-linejoin="round"/>
<line x1="326.90" y1="237.41" x2="326.90" y2="239.23" stroke="#5063a6" stroke-width="0.7"/>
<line x1="325.70" y1="237.41" x2="328.10" y2="237.41" stroke="#5063a6" stroke-width="0.7"/>
<line x1="325.70" y1="239.23" x2="328.10" y2="239.23" stroke="#5063a6" stroke-width="0.7"/>
<line x1="338.80" y1="236.81" x2="338.80" y2="238.62" stroke="#5063a6" stroke-width="0.7"/>
<line x1="337.60" y1="236.81" x2="340.00" y2="236.81" stroke="#5063a6" stroke-width="0.7"/>
<line x1="337.60" y1="238.62" x2="340.00" y2="238.62" stroke="#5063a6" stroke-width="0.7"/>
<line x1="351.00" y1="238.02" x2="351.00" y2="239.83" stroke="#5063a6" stroke-width="0.7"/>
<line x1="349.80" y1="238.02" x2="352.20" y2="238.02" stroke="#5063a6" stroke-width="0.7"/>
<line x1="349.80" y1="239.83" x2="352.20" y2="239.83" stroke="#5063a6" stroke-width="0.7"/>
<line x1="363.00" y1="240.14" x2="363.00" y2="243.16" stroke="#5063a6" stroke-width="0.7"/>
<line x1="361.80" y1="240.14" x2="364.20" y2="240.14" stroke="#5063a6" stroke-width="0.7"/>
<line x1="361.80" y1="243.16" x2="364.20" y2="243.16" stroke="#5063a6" stroke-width="0.7"/>
<line x1="375.10" y1="240.14" x2="375.10" y2="243.16" stroke="#5063a6" stroke-width="0.7"/>
<line x1="373.90" y1="240.14" x2="376.30" y2="240.14" stroke="#5063a6" stroke-width="0.7"/>
<line x1="373.90" y1="243.16" x2="376.30" y2="243.16" stroke="#5063a6" stroke-width="0.7"/>
<path d="M398.20,235.60 L410.00,225.31 L422.00,225.31 L433.90,215.03 L446.10,193.25 L458.20,182.06" stroke="#cc5062" stroke-width="0.9" fill="none" stroke-linejoin="round"/>
<line x1="410.00" y1="220.17" x2="410.00" y2="230.46" stroke="#cc5062" stroke-width="0.7"/>
<line x1="408.80" y1="220.17" x2="411.20" y2="220.17" stroke="#cc5062" stroke-width="0.7"/>
<line x1="408.80" y1="230.46" x2="411.20" y2="230.46" stroke="#cc5062" stroke-width="0.7"/>
<line x1="422.00" y1="220.17" x2="422.00" y2="230.46" stroke="#cc5062" stroke-width="0.7"/>
<line x1="420.80" y1="220.17" x2="423.20" y2="220.17" stroke="#cc5062" stroke-width="0.7"/>
<line x1="420.80" y1="230.46" x2="423.20" y2="230.46" stroke="#cc5062" stroke-width="0.7"/>
<line x1="433.90" y1="206.56" x2="433.90" y2="223.50" stroke="#cc5062" stroke-width="0.7"/>
<line x1="432.70" y1="206.56" x2="435.10" y2="206.56" stroke="#cc5062" stroke-width="0.7"/>
<line x1="432.70" y1="223.50" x2="435.10" y2="223.50" stroke="#cc5062" stroke-width="0.7"/>
<line x1="446.10" y1="174.80" x2="446.10" y2="211.70" stroke="#cc5062" stroke-width="0.7"/>
<line x1="444.90" y1="174.80" x2="447.30" y2="174.80" stroke="#cc5062" stroke-width="0.7"/>
<line x1="444.90" y1="211.70" x2="447.30" y2="211.70" stroke="#cc5062" stroke-width="0.7"/>
<line x1="458.20" y1="166.63" x2="458.20" y2="197.49" stroke="#cc5062" stroke-width="0.7"/>
<line x1="457.00" y1="166.63" x2="459.40" y2="166.63" stroke="#cc5062" stroke-width="0.7"/>
<line x1="457.00" y1="197.49" x2="459.40" y2="197.49" stroke="#cc5062" stroke-width="0.7"/>
<path d="M398.20,235.60 L410.00,234.69 L422.00,238.32 L433.90,234.39 L446.10,235.90 L458.20,229.85" stroke="#5063a6" stroke-width="0.9" fill="none" stroke-linejoin="round"/>
<line x1="410.00" y1="230.46" x2="410.00" y2="238.93" stroke="#5063a6" stroke-width="0.7"/>
<line x1="408.80" y1="230.46" x2="411.20" y2="230.46" stroke="#5063a6" stroke-width="0.7"/>
<line x1="408.80" y1="238.93" x2="411.20" y2="238.93" stroke="#5063a6" stroke-width="0.7"/>
<line x1="422.00" y1="234.39" x2="422.00" y2="242.25" stroke="#5063a6" stroke-width="0.7"/>
<line x1="420.80" y1="234.39" x2="423.20" y2="234.39" stroke="#5063a6" stroke-width="0.7"/>
<line x1="420.80" y1="242.25" x2="423.20" y2="242.25" stroke="#5063a6" stroke-width="0.7"/>
<line x1="433.90" y1="228.04" x2="433.90" y2="240.74" stroke="#5063a6" stroke-width="0.7"/>
<line x1="432.70" y1="228.04" x2="435.10" y2="228.04" stroke="#5063a6" stroke-width="0.7"/>
<line x1="432.70" y1="240.74" x2="435.10" y2="240.74" stroke="#5063a6" stroke-width="0.7"/>
<line x1="446.10" y1="228.64" x2="446.10" y2="243.16" stroke="#5063a6" stroke-width="0.7"/>
<line x1="444.90" y1="228.64" x2="447.30" y2="228.64" stroke="#5063a6" stroke-width="0.7"/>
<line x1="444.90" y1="243.16" x2="447.30" y2="243.16" stroke="#5063a6" stroke-width="0.7"/>
<line x1="458.20" y1="221.99" x2="458.20" y2="237.72" stroke="#5063a6" stroke-width="0.7"/>
<line x1="457.00" y1="221.99" x2="459.40" y2="221.99" stroke="#5063a6" stroke-width="0.7"/>
<line x1="457.00" y1="237.72" x2="459.40" y2="237.72" stroke="#5063a6" stroke-width="0.7"/>
<text x="344.80" y="163.28" font-size="8" text-anchor="middle" fill="#000" stroke="#000" stroke-width="0.18">Coding genes</text>
<text x="427.30" y="154.83" font-size="7.85" text-anchor="middle" fill="#000" stroke="#000" stroke-width="0.18">Low + High Stringency</text>
<text x="427.30" y="163.83" font-size="7.85" text-anchor="middle" fill="#000" stroke="#000" stroke-width="0.18">LncRNAs</text>
<text x="283.98" y="213.70" font-size="6.6" text-anchor="middle" fill="#000" stroke="#000" stroke-width="0.18" transform="rotate(-90 283.976 213.7)">Expression change from</text>
<text x="291.34" y="214.20" font-size="6.5" text-anchor="middle" fill="#000" stroke="#000" stroke-width="0.18" transform="rotate(-90 291.34 214.2)">baseline (log base 2)</text>
<text x="342.10" y="284.94" font-size="6.77" text-anchor="start" fill="#000" stroke="#000" stroke-width="0.18">Hours after GATA1 activation</text>
<text x="474.70" y="187.94" font-size="6.5" text-anchor="start" fill="#000" stroke="#000" stroke-width="0.18">Genomic locus</text>
<text x="474.70" y="196.14" font-size="6.5" text-anchor="start" fill="#000" stroke="#000" stroke-width="0.18">GATA1 binding</text>
<line x1="487.40" y1="201.40" x2="487.40" y2="206.00" stroke="#cc5062" stroke-width="0.7"/>
<line x1="486.40" y1="201.40" x2="488.40" y2="201.40" stroke="#cc5062" stroke-width="0.7"/>
<line x1="486.40" y1="206.00" x2="488.40" y2="206.00" stroke="#cc5062" stroke-width="0.7"/>
<text x="490.00" y="206.04" font-size="6.5" text-anchor="start" fill="#000" stroke="#000" stroke-width="0.18">Bound</text>
<line x1="487.40" y1="208.70" x2="487.40" y2="213.30" stroke="#5063a6" stroke-width="0.7"/>
<line x1="486.40" y1="208.70" x2="488.40" y2="208.70" stroke="#5063a6" stroke-width="0.7"/>
<line x1="486.40" y1="213.30" x2="488.40" y2="213.30" stroke="#5063a6" stroke-width="0.7"/>
<text x="490.00" y="213.34" font-size="6.5" text-anchor="start" fill="#000" stroke="#000" stroke-width="0.18">Not Bound</text>
<text x="467.60" y="285.06" font-size="6.0" text-anchor="start" fill="#000" stroke="#000" stroke-width="0.18">Error Bars: +/- SE</text>
<text x="0.00" y="300.40" font-size="12" text-anchor="start" font-weight="bold" fill="#000" stroke="#000" stroke-width="0.108">E</text>
<rect x="37.30" y="301.90" width="99.70" height="19.90" fill="#6c2798" stroke="none" stroke-width="0"/>
<text x="87.20" y="310.50" font-size="6.95" text-anchor="middle" fill="#f4eefa" stroke="#f4eefa" stroke-width="0.18">"Heptad" occupancy in</text>
<text x="86.90" y="318.60" font-size="7.0" text-anchor="middle" fill="#f4eefa" stroke="#f4eefa" stroke-width="0.18">Stem/Progenitor Cells</text>
<rect x="17.50" y="354.10" width="135.60" height="2.70" fill="#000" stroke="none" stroke-width="0"/>
<text x="17.50" y="364.11" font-size="6.7" text-anchor="start" font-weight="bold" fill="#000" stroke="#000" stroke-width="0.108">Gene locus</text>
<polygon points="59.2,333.2 46.9,351.6 68.4,351.6" fill="#8fa05f"/>
<text x="60.20" y="350.00" font-size="4.6" text-anchor="middle" font-weight="bold" fill="#e4e8c8" stroke="#e4e8c8" stroke-width="0.108">Erg</text>
<polygon points="72.8,328.6 95.4,328.6 91.4,345.9 68.4,345.9" fill="#e8801f"/>
<text x="81.20" y="340.40" font-size="4.8" text-anchor="middle" font-weight="bold" fill="#fbe2c4" stroke="#fbe2c4" stroke-width="0.108">Runx1</text>
<rect x="100.00" y="324.20" width="20.80" height="16.50" fill="#8ec0e0" stroke="none" stroke-width="0"/>
<text x="110.20" y="335.70" font-size="4.7" text-anchor="middle" font-weight="bold" fill="#f2f8fc" stroke="#f2f8fc" stroke-width="0.108">Tal1</text>
<polygon points="95.3,356.3 124,356.3 119.8,368.4 100.4,368.6" fill="#8b1b1b"/>
<text x="110.60" y="364.90" font-size="4.95" text-anchor="middle" font-weight="bold" fill="#f6dada" stroke="#f6dada" stroke-width="0.108">Lmo2</text>
<ellipse cx="80.1" cy="354.8" rx="15.2" ry="7.9" fill="#4b8c2b" stroke="#e8eee0" stroke-width="0.6"/>
<text x="80.00" y="358.30" font-size="5.05" text-anchor="middle" font-weight="bold" fill="#e8f2dc" stroke="#e8f2dc" stroke-width="0.108">Gata2</text>
<polygon points="108.2,350.8 118.4,341.8 136.5,351.3 126.8,357.6 111.2,358.2" fill="#1f48e6"/>
<text x="118.00" y="353.20" font-size="4.95" text-anchor="middle" font-weight="bold" fill="#e6ecfe" stroke="#e6ecfe" stroke-width="0.108">Ldb1</text>
<circle cx="99.8" cy="347.8" r="8.9" fill="#e03018"/>
<text x="99.60" y="349.50" font-size="4.6" text-anchor="middle" font-weight="bold" fill="#fde2dc" stroke="#fde2dc" stroke-width="0.108">Lyl1</text>
<path d="M139.40,355.00 L139.40,342.30 L149.00,342.30" stroke="#000" stroke-width="1.0" fill="none" stroke-linejoin="round"/>
<polygon points="147.9,340.3 151.9,342.3 147.9,344.3" fill="#000"/>
<polygon points="161.85,342.64 177.05,333.85 178.25,335.93 180.60,329.60 173.95,328.48 175.15,330.56 159.95,339.36" fill="#000"/>
<polygon points="160.43,363.14 177.09,367.36 176.50,369.69 182.60,366.80 178.62,361.35 178.03,363.68 161.37,359.46" fill="#000"/>
<rect x="182.80" y="311.30" width="75.30" height="22.90" fill="#6cc23c" stroke="none" stroke-width="0"/>
<text x="220.60" y="321.60" font-size="6.55" text-anchor="middle" fill="#f4fbef" stroke="#f4fbef" stroke-width="0.18">Upregulation during</text>
<text x="220.70" y="329.40" font-size="6.3" text-anchor="middle" fill="#f4fbef" stroke="#f4fbef" stroke-width="0.18">megakaryopoiesis</text>
<rect x="185.00" y="358.60" width="73.10" height="22.60" fill="#e12d0a" stroke="none" stroke-width="0"/>
<text x="221.50" y="369.00" font-size="6.5" text-anchor="middle" fill="#fdeee8" stroke="#fdeee8" stroke-width="0.18">Downregulation during</text>
<text x="221.40" y="376.40" font-size="6.4" text-anchor="middle" fill="#fdeee8" stroke="#fdeee8" stroke-width="0.18">erythropoiesis</text>
<text x="32.60" y="395.20" font-size="8.05" text-anchor="start" fill="#000" stroke="#000" stroke-width="0.18">Model of Megakaryocytic Developmental Priming</text>
<text x="280.40" y="300.50" font-size="12" text-anchor="start" font-weight="bold" fill="#000" stroke="#000" stroke-width="0.108">F</text>
<text x="376.20" y="310.41" font-size="6.7" text-anchor="end" fill="#000" stroke="#000" stroke-width="0.18">Expression during Meg-poiesis</text>
<text x="374.50" y="317.81" font-size="6.7" text-anchor="end" fill="#000" stroke="#000" stroke-width="0.18">Expression during Ery-poiesis</text>
<text x="393.00" y="310.04" font-size="6.5" text-anchor="middle" fill="#000" stroke="#000" stroke-width="0.18">Up</text>
<text x="393.00" y="317.54" font-size="6.5" text-anchor="middle" fill="#000" stroke="#000" stroke-width="0.18">Dn</text>
<text x="407.80" y="310.04" font-size="6.5" text-anchor="middle" fill="#000" stroke="#000" stroke-width="0.18">Up</text>
<text x="407.80" y="317.54" font-size="6.5" text-anchor="middle" fill="#000" stroke="#000" stroke-width="0.18">N</text>
<text x="422.30" y="310.04" font-size="6.5" text-anchor="middle" fill="#000" stroke="#000" stroke-width="0.18">Up</text>
<text x="422.30" y="317.54" font-size="6.5" text-anchor="middle" fill="#000" stroke="#000" stroke-width="0.18">Up</text>
<text x="436.60" y="310.04" font-size="6.5" text-anchor="middle" fill="#000" stroke="#000" stroke-width="0.18">Dn</text>
<text x="436.60" y="317.54" font-size="6.5" text-anchor="middle" fill="#000" stroke="#000" stroke-width="0.18">Dn</text>
<text x="451.40" y="310.04" font-size="6.5" text-anchor="middle" fill="#000" stroke="#000" stroke-width="0.18">Dn</text>
<text x="451.40" y="317.54" font-size="6.5" text-anchor="middle" fill="#000" stroke="#000" stroke-width="0.18">N</text>
<text x="465.70" y="310.04" font-size="6.5" text-anchor="middle" fill="#000" stroke="#000" stroke-width="0.18">Dn</text>
<text x="465.70" y="317.54" font-size="6.5" text-anchor="middle" fill="#000" stroke="#000" stroke-width="0.18">Up</text>
<text x="480.30" y="310.04" font-size="6.5" text-anchor="middle" fill="#000" stroke="#000" stroke-width="0.18">N</text>
<text x="480.30" y="317.54" font-size="6.5" text-anchor="middle" fill="#000" stroke="#000" stroke-width="0.18">N</text>
<text x="494.60" y="310.04" font-size="6.5" text-anchor="middle" fill="#000" stroke="#000" stroke-width="0.18">N</text>
<text x="494.60" y="317.54" font-size="6.5" text-anchor="middle" fill="#000" stroke="#000" stroke-width="0.18">Dn</text>
<text x="509.40" y="310.04" font-size="6.5" text-anchor="middle" fill="#000" stroke="#000" stroke-width="0.18">N</text>
<text x="509.40" y="317.54" font-size="6.5" text-anchor="middle" fill="#000" stroke="#000" stroke-width="0.18">Up</text>
<line x1="414.60" y1="297.00" x2="414.60" y2="326.80" stroke="#000" stroke-width="0.8"/>
<rect x="385.40" y="326.60" width="14.40" height="12.40" fill="#5e0b7a" stroke="none" stroke-width="0"/>
<rect x="399.80" y="326.60" width="14.80" height="12.40" fill="#e3d4eb" stroke="none" stroke-width="0"/>
<rect x="414.60" y="326.60" width="14.80" height="12.40" fill="#9a5aae" stroke="none" stroke-width="0"/>
<rect x="429.40" y="326.60" width="14.80" height="12.40" fill="#d4bee1" stroke="none" stroke-width="0"/>
<rect x="444.20" y="326.60" width="14.10" height="12.40" fill="#ffffff" stroke="none" stroke-width="0"/>
<rect x="458.30" y="326.60" width="14.80" height="12.40" fill="#ccaed9" stroke="none" stroke-width="0"/>
<rect x="473.10" y="326.60" width="14.90" height="12.40" fill="#ffffff" stroke="none" stroke-width="0"/>
<rect x="488.00" y="326.60" width="14.20" height="12.40" fill="#b48ccb" stroke="none" stroke-width="0"/>
<rect x="502.20" y="326.60" width="14.00" height="12.40" fill="#ffffff" stroke="none" stroke-width="0"/>
<rect x="385.40" y="339.00" width="14.40" height="12.30" fill="#c09dcf" stroke="none" stroke-width="0"/>
<rect x="399.80" y="339.00" width="14.80" height="12.30" fill="#b48bc6" stroke="none" stroke-width="0"/>
<rect x="414.60" y="339.00" width="14.80" height="12.30" fill="#ede1f1" stroke="none" stroke-width="0"/>
<rect x="429.40" y="339.00" width="14.80" height="12.30" fill="#e9ddef" stroke="none" stroke-width="0"/>
<rect x="444.20" y="339.00" width="14.10" height="12.30" fill="#ffffff" stroke="none" stroke-width="0"/>
<rect x="458.30" y="339.00" width="14.80" height="12.30" fill="#ffffff" stroke="none" stroke-width="0"/>
<rect x="473.10" y="339.00" width="14.90" height="12.30" fill="#ffffff" stroke="none" stroke-width="0"/>
<rect x="488.00" y="339.00" width="14.20" height="12.30" fill="#ffffff" stroke="none" stroke-width="0"/>
<rect x="502.20" y="339.00" width="14.00" height="12.30" fill="#ffffff" stroke="none" stroke-width="0"/>
<line x1="385.40" y1="326.60" x2="385.40" y2="351.30" stroke="#000" stroke-width="0.9"/>
<line x1="399.80" y1="326.60" x2="399.80" y2="351.30" stroke="#000" stroke-width="0.9"/>
<line x1="414.60" y1="326.60" x2="414.60" y2="351.30" stroke="#000" stroke-width="0.9"/>
<line x1="429.40" y1="326.60" x2="429.40" y2="351.30" stroke="#000" stroke-width="0.9"/>
<line x1="444.20" y1="326.60" x2="444.20" y2="351.30" stroke="#000" stroke-width="0.9"/>
<line x1="458.30" y1="326.60" x2="458.30" y2="351.30" stroke="#000" stroke-width="0.9"/>
<line x1="473.10" y1="326.60" x2="473.10" y2="351.30" stroke="#000" stroke-width="0.9"/>
<line x1="488.00" y1="326.60" x2="488.00" y2="351.30" stroke="#000" stroke-width="0.9"/>
<line x1="502.20" y1="326.60" x2="502.20" y2="351.30" stroke="#000" stroke-width="0.9"/>
<line x1="516.20" y1="326.60" x2="516.20" y2="351.30" stroke="#000" stroke-width="0.9"/>
<line x1="384.95" y1="326.60" x2="516.65" y2="326.60" stroke="#000" stroke-width="0.9"/>
<line x1="384.95" y1="339.00" x2="516.65" y2="339.00" stroke="#000" stroke-width="0.9"/>
<line x1="384.95" y1="351.30" x2="516.65" y2="351.30" stroke="#000" stroke-width="0.9"/>
<text x="342.60" y="334.71" font-size="7.8" text-anchor="middle" font-weight="bold" fill="#000" stroke="#000" stroke-width="0.108">Coding genes</text>
<text x="342.30" y="347.37" font-size="7.7" text-anchor="middle" font-weight="bold" fill="#000" stroke="#000" stroke-width="0.108">LncRNAs</text>
<text x="431.70" y="364.90" font-size="6.95" text-anchor="middle" fill="#000" stroke="#000" stroke-width="0.18">% genes in each group with TF heptad occupancy in</text>
<text x="432.70" y="372.32" font-size="7.0" text-anchor="middle" fill="#000" stroke="#000" stroke-width="0.18">HPC-7 (hematopoietic progenitor) cell line</text>
<rect x="376.20" y="377.10" width="22.34" height="7.00" fill="#52096a" stroke="#000" stroke-width="0.8"/>
<rect x="398.54" y="377.10" width="22.34" height="7.00" fill="#7e4796" stroke="#000" stroke-width="0.8"/>
<rect x="420.88" y="377.10" width="22.34" height="7.00" fill="#a485bd" stroke="#000" stroke-width="0.8"/>
<rect x="443.22" y="377.10" width="22.34" height="7.00" fill="#d8c7e4" stroke="#000" stroke-width="0.8"/>
<rect x="465.56" y="377.10" width="22.34" height="7.00" fill="#ffffff" stroke="#000" stroke-width="0.8"/>
<text x="387.60" y="391.32" font-size="5.9" text-anchor="middle" fill="#000" stroke="#000" stroke-width="0.18">≥14%</text>
<text x="410.00" y="391.32" font-size="5.9" text-anchor="middle" fill="#000" stroke="#000" stroke-width="0.18">12%</text>
<text x="433.00" y="391.32" font-size="5.9" text-anchor="middle" fill="#000" stroke="#000" stroke-width="0.18">10%</text>
<text x="455.00" y="391.32" font-size="5.9" text-anchor="middle" fill="#000" stroke="#000" stroke-width="0.18">8%</text>
<text x="476.60" y="391.32" font-size="5.9" text-anchor="middle" fill="#000" stroke="#000" stroke-width="0.18">≤6%</text>
</svg></body></html>
